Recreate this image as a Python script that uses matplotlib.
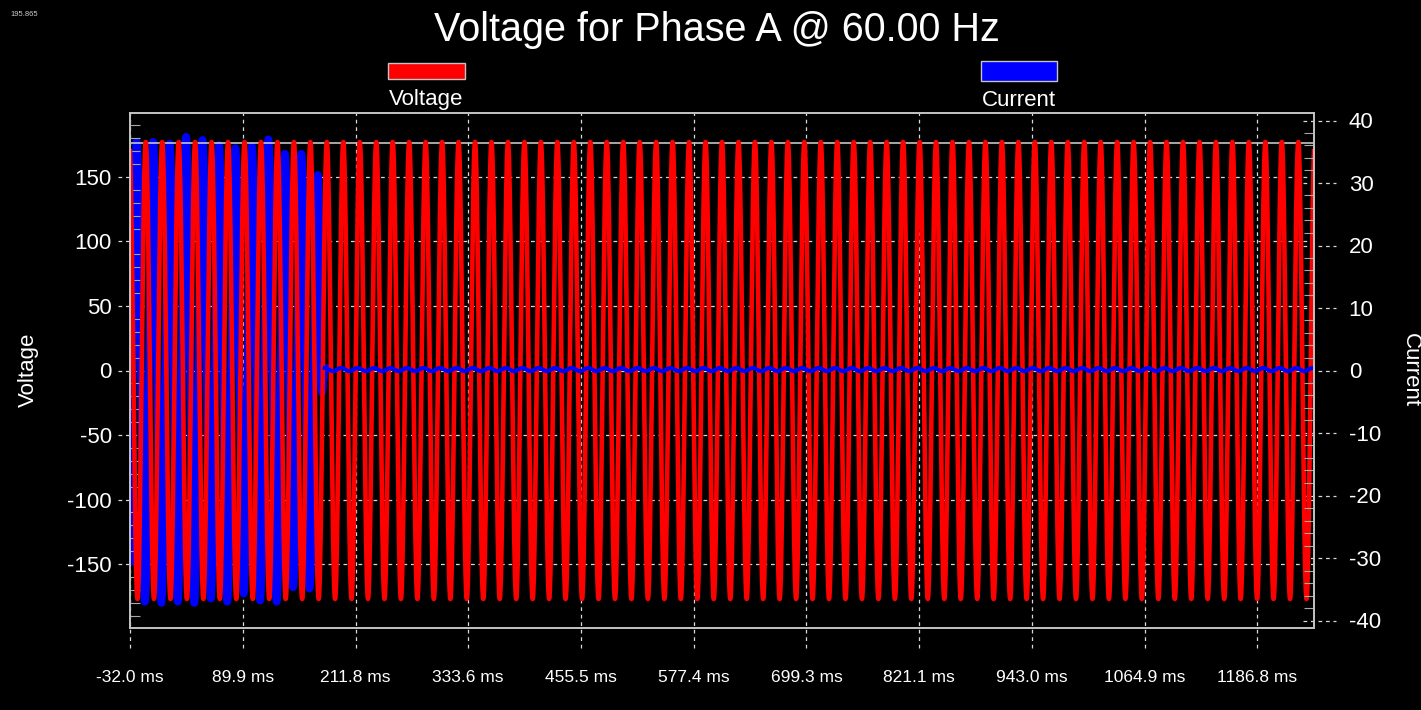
import numpy as np
import matplotlib.pyplot as plt
import matplotlib.transforms as mtransforms
from matplotlib.patches import Rectangle
from matplotlib.ticker import MultipleLocator

plt.rcParams['font.family'] = ['Liberation Sans', 'DejaVu Sans']
plt.rcParams['axes.unicode_minus'] = False

# axis ranges / ticks
t_min, t_max = -32.0, 1248.0
x_ticks = [-32.0, 89.9, 211.8, 333.6, 455.5, 577.4, 699.3, 821.1, 943.0, 1064.9, 1186.8]
x_labels = ['%.1f ms' % v for v in x_ticks]
v_lim = 199.5
i_lim = 41.2
v_ticks = [-150, -100, -50, 0, 50, 100, 150]
i_ticks = [-40, -30, -20, -10, 0, 10, 20, 30, 40]

# voltage trace
v_peak = 177.0
period_ms = 17.8
v_first_peak_ms = -15.0
v_ref_line = 176.0

# fault current: troughs / peaks cycle by cycle, then cleared
i_first_peak_ms = -24.8
i_troughs = [-37.0, -37.0, -37.2, -37.0, -37.2, -36.5, -37.0, -35.7, -36.8, -37.0, -34.7, -34.9]
i_peaks = [36.6, 36.6, 36.3, 37.4, 36.9, 36.1, 35.6, 35.9, 37.0, 34.7, 34.7, 31.3]
i_clear_ms = [175.5, 178.5]
i_clear_val = [-3.5, 0.4]
i_resid_offset = 0.15
i_resid_ripple = 0.25


def knot_wave(t, kt, kv):
    # half-cosine between successive extremes
    kt = np.asarray(kt)
    kv = np.asarray(kv)
    k = np.clip(np.searchsorted(kt, t) - 1, 0, len(kt) - 2)
    u = np.clip((t - kt[k]) / (kt[k + 1] - kt[k]), 0, 1)
    s = (1 - np.cos(np.pi * u)) / 2
    return kv[k] + (kv[k + 1] - kv[k]) * s


t = np.linspace(t_min, t_max, 16000)
voltage = v_peak * np.cos(2 * np.pi * (t - v_first_peak_ms) / period_ms)

knot_t, knot_v = [], []
for n in range(len(i_peaks)):
    pk = i_first_peak_ms + n * period_ms
    knot_t += [pk - period_ms / 2, pk]
    knot_v += [i_troughs[n], i_peaks[n]]
knot_t += i_clear_ms
knot_v += i_clear_val
current = knot_wave(t, knot_t, knot_v)
after = t > knot_t[-1]
current[after] = i_resid_offset + i_resid_ripple * np.cos(2 * np.pi * (t[after] - knot_t[-1]) / period_ms)
fault = t <= knot_t[-1] + 0.5

fig = plt.figure(figsize=(14.21, 7.10), dpi=100, facecolor='black')
ax = fig.add_axes([130 / 1421, 82 / 710, 1184 / 1421, 515 / 710])
ax.set_facecolor('black')
ax2 = ax.twinx()

ax.set_xlim(t_min, t_max)
ax.set_ylim(-v_lim, v_lim)
ax2.set_ylim(-i_lim, i_lim)
ax.set_autoscale_on(False)

frame = '#c4c4c4'
for a in (ax, ax2):
    for sp in a.spines.values():
        sp.set_color(frame)
        sp.set_linewidth(1.2)

grid_kw = dict(color='#d8d8d8', lw=0.9, ls=(0, (3, 3)), clip_on=False, zorder=0.5)
bx = mtransforms.blended_transform_factory(ax.transData, ax.transAxes)
by = mtransforms.blended_transform_factory(ax.transAxes, ax.transData)
by2 = mtransforms.blended_transform_factory(ax2.transAxes, ax2.transData)
for x in x_ticks:
    ax.plot([x, x], [-20 / 515, 1], transform=bx, **grid_kw)
for y in v_ticks:
    ax.plot([-12 / 1184, 1], [y, y], transform=by, **grid_kw)
for y in i_ticks:
    ax.plot([(1303 - 130) / 1184, (1336 - 130) / 1184], [y, y], transform=by2, **grid_kw)

# fault current under the voltage, residual current above it
ax.plot(t[fault], current[fault], color='#0000ff', lw=5.5, zorder=1.5, transform=ax2.transData)
ax.plot([0, 1], [v_ref_line, v_ref_line], transform=by, color=frame, lw=1.2, zorder=1.8)
ax.plot(t, voltage, color='#ff0000', lw=3.3, zorder=2)
ax.plot(t[after], current[after], color='#0000ff', lw=3.0, zorder=2.5, transform=ax2.transData)

ax.set_xticks(x_ticks)
ax.set_xticklabels(x_labels)
ax.set_yticks(v_ticks)
ax2.set_yticks(i_ticks)
ax.yaxis.set_minor_locator(MultipleLocator(10))
ax2.yaxis.set_minor_locator(MultipleLocator(2))
ax.tick_params(axis='x', which='major', length=0, pad=30, colors='white', labelsize=12.5)
ax.tick_params(axis='y', which='major', length=0, pad=13, colors='white', labelsize=16)
ax2.tick_params(axis='y', which='major', length=0, pad=25, colors='white', labelsize=16)
ax.tick_params(axis='y', which='minor', direction='in', length=7, width=0.8, color='#a8a8a8')
ax2.tick_params(axis='y', which='minor', direction='in', length=7, width=0.8, color='#a8a8a8')

fig.text(717 / 1421, 1 - 30 / 710, 'Voltage for Phase A @ 60.00 Hz', color='white',
         fontsize=28.5, ha='center', va='center')
fig.text(10 / 1421, 1 - 15 / 710, '195.865', color='#cccccc', fontsize=5.5, ha='left', va='center')

fig.add_artist(Rectangle((388 / 1421, 1 - 79 / 710), 77 / 1421, 16 / 710, transform=fig.transFigure,
                         facecolor='#ff0000', edgecolor=frame, lw=1))
fig.add_artist(Rectangle((981 / 1421, 1 - 81 / 710), 76 / 1421, 20 / 710, transform=fig.transFigure,
                         facecolor='#0000ff', edgecolor=frame, lw=1))
fig.text(426 / 1421, 1 - 100 / 710, 'Voltage', color='white', fontsize=16, ha='center', va='center')
fig.text(1019 / 1421, 1 - 100 / 710, 'Current', color='white', fontsize=16, ha='center', va='center')

fig.text(28 / 1421, 1 - 370 / 710, 'Voltage', color='white', fontsize=16, rotation=90,
         ha='center', va='center')
fig.text(1410 / 1421, 1 - 370 / 710, 'Current', color='white', fontsize=16, rotation=270,
         ha='center', va='center')

fig.savefig('out.png', dpi=100, facecolor='black')
